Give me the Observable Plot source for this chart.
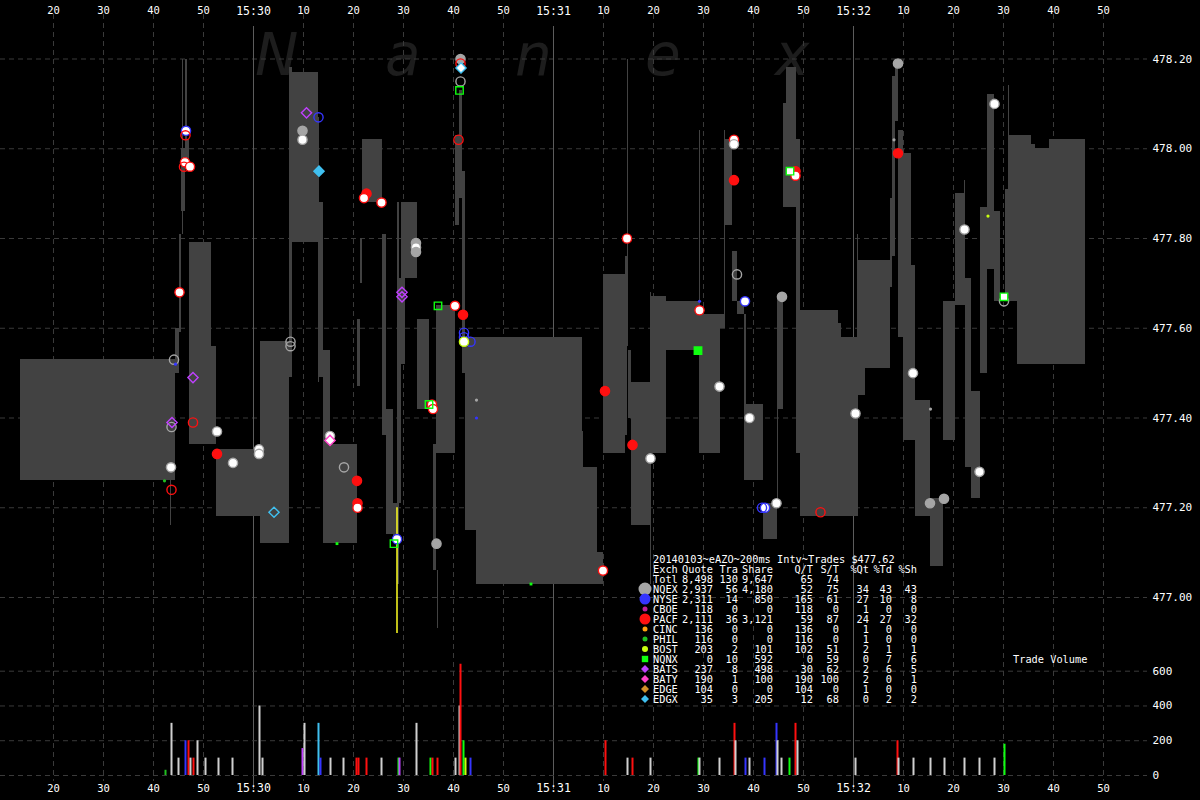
<!DOCTYPE html>
<html><head><meta charset="utf-8">
<script src="https://cdn.jsdelivr.net/npm/d3@7"></script>
<script src="https://cdn.jsdelivr.net/npm/@observablehq/plot@0.6"></script>
<style>
html,body{margin:0;padding:0;background:#000;}
#chart{position:relative;width:1200px;height:800px;background:#000;overflow:hidden;font-family:"DejaVu Sans Mono",monospace;color:#fff;}
#chart svg.layer{position:absolute;left:0;top:0;background:transparent;}
.wm{position:absolute;top:26px;font:italic 58px "DejaVu Sans",sans-serif;line-height:1;color:#1d1d1d;}
.lg{position:absolute;font-size:10.3px;line-height:10px;white-space:pre;color:#fff;}
</style></head><body><div id="chart"></div>
<script>
// ---- time is seconds after 15:29:00 ----
// NBBO spread segments
const spreadStart=[13.4,44.4,45.2,45.6,46.4,46.8,47.2,51.6,52.6,61.4,67.2,67.8,73.0,73.2,74.0,75.4,80.8,81.4,81.8,85.8,86.6,88.0,88.8,89.2,89.6,90.4,92.8,96.0,96.6,100.4,101.2,101.8,102.4,104.6,125.8,126.0,128.8,130.0,134.4,134.8,135.0,135.6,139.4,142.6,149.2,153.4,154.2,155.8,156.8,158.2,158.6,162.0,164.8,166.0,166.6,168.6,169.4,177.0,177.6,180.8,182.4,187.4,187.8,188.4,189.0,190.0,191.6,192.4,195.4,198.0,200.4,202.4,203.6,205.4,206.8,208.2,210.4,211.2,212.8,215.6,216.4,219.2,
 45.8,43.4,96.8,139.4,149.2,154.2,164.8,180.8,202.2,211.0];
const spreadEnd=[44.4,45.2,45.6,46.4,46.8,47.2,51.6,52.6,61.4,67.2,67.8,73.0,73.2,74.0,75.4,80.8,81.4,81.8,85.8,86.6,88.0,88.8,89.2,89.6,90.4,92.8,95.2,96.6,100.4,101.2,101.8,102.4,104.6,125.8,126.0,128.8,130.0,134.4,134.8,135.0,135.6,139.4,142.6,149.2,153.4,154.2,155.8,156.8,158.2,158.6,162.0,164.8,166.0,166.6,168.6,169.4,177.0,177.6,180.8,182.4,187.4,187.8,188.4,189.0,190.0,191.6,192.4,195.4,198.0,200.4,202.4,203.6,205.4,206.8,208.2,209.4,211.2,212.8,215.6,216.4,219.2,226.4,
 46.0,43.6,97.0,139.6,149.4,154.4,165.0,181.0,202.4,211.2];
const spreadBid=[477.26,477.50,477.59,477.86,477.96,477.96,477.34,477.34,477.18,477.12,477.49,477.79,477.48,477.49,477.12,477.12,477.47,477.70,477.88,477.36,477.14,477.13,477.03,477.21,477.52,477.71,477.42,477.06,477.32,477.83,477.89,477.50,477.15,477.03,477.03,477.03,477.03,477.32,477.36,477.56,477.40,477.16,477.32,477.55,477.32,477.60,477.83,477.66,477.63,477.26,477.26,477.13,477.42,477.87,477.87,477.32,477.18,477.18,477.18,477.45,477.51,477.69,477.76,478.06,477.58,477.35,477.35,477.18,477.07,477.35,477.65,477.29,477.22,477.50,477.73,477.66,477.66,477.66,477.52,477.52,477.52,477.52,
 477.81,477.16,476.93,477.03,477.65,477.60,477.21,477.18,477.71,477.91];
const spreadAsk=[477.53,477.60,477.81,478.00,478.20,478.02,477.79,477.56,477.33,477.57,478.18,478.17,478.07,477.88,477.55,477.34,477.62,477.80,478.02,477.81,477.42,477.21,477.88,477.71,477.88,477.88,477.62,477.34,477.65,478.03,478.13,477.95,477.58,477.58,477.37,477.29,477.10,477.72,477.76,478.20,477.55,477.48,477.67,477.66,477.63,477.63,478.02,477.77,477.66,477.63,477.43,477.21,477.67,478.10,478.18,478.02,477.64,477.61,477.58,477.75,477.75,477.89,478.16,478.20,478.04,477.99,477.74,477.44,477.22,477.66,477.90,477.71,477.46,477.87,478.12,477.86,477.91,478.03,478.03,478.01,478.00,478.02,
 478.20,477.26,477.06,477.68,478.04,478.04,477.67,477.81,477.93,478.14];

// trades (markers)
const tradeTime=[46.5,46.4,46.3,46.1,47.3,45.2,44.1,44.4,47.9,43.7,43.6,47.9,52.7,43.5,52.7,55.9,61.1,61.1,67.4,67.4,64.1,42.2,43.6,69.8,69.8,70.6,73.0,73.1,75.3,75.3,78.1,80.7,80.8,80.8,82.6,82.1,85.6,92.5,92.5,92.5,89.7,89.7,96.9,100.3,101.9,102.1,102.1,103.4,102.1,95.1,95.7,95.9,101.4,101.4,101.5,101.4,101.2,101.0,88.7,88.1,96.6,76.7,115.5,104.6,104.6,129.9,130.3,134.7,135.8,139.4,149.2,149.2,148.9,153.2,156.1,156.1,156.1,156.7,158.3,159.2,162.3,161.7,164.6,165.7,167.3,168.4,168.4,173.4,180.4,188.1,188.9,188.9,191.9,195.4,195.3,198.1,202.2,205.2,206.9,208.2,210.1,210.1];
const tradePrice=[478.04,478.03,477.97,477.96,477.96,477.68,477.53,477.52,477.49,477.39,477.38,477.39,477.37,477.29,477.32,477.30,477.33,477.32,477.57,477.56,477.19,477.26,477.24,478.04,478.02,478.08,478.07,477.95,477.36,477.35,477.29,477.26,477.21,477.20,477.90,477.89,477.88,477.79,477.78,477.77,477.68,477.67,477.65,477.65,477.63,477.59,477.58,477.57,477.57,477.43,477.43,477.42,478.20,478.19,478.18,478.15,478.13,478.02,477.13,477.12,477.12,477.12,477.03,477.44,477.40,477.06,477.46,477.80,477.34,477.31,477.66,477.64,477.55,477.47,478.02,478.01,477.93,477.72,477.66,477.40,477.20,477.20,477.21,477.67,477.95,477.95,477.94,477.19,477.41,478.02,478.19,477.99,477.50,477.42,477.21,477.22,477.82,477.28,477.85,478.10,477.67,477.66];
const tradeExch=["NYSE","PACF","PACF","PACF","PACF","PACF","NQEX","NYSE","BATS","BATS","NQEX","PACF","NQEX","NQEX","PACF","NQEX","NQEX","NQEX","NQEX","NQEX","EDGX","PHIL","PACF","NQEX","NQEX","BATS","NYSE","EDGX","NQEX","BATY","NQEX","PACF","PACF","PACF","PACF","PACF","PACF","NQEX","NQEX","NQEX","BATS","BATS","NQNX","PACF","PACF","NYSE","NYSE","NYSE","BOST","NQNX","PACF","PACF","NQEX","PACF","EDGX","NQEX","NQNX","PACF","NYSE","NQNX","NQEX","NQNX","NQNX","NQEX","NYSE","PACF","PACF","PACF","PACF","NQEX","NYSE","PACF","NQNX","NQEX","PACF","NQEX","PACF","NQEX","NYSE","NQEX","NYSE","NYSE","NQEX","NQEX","NQNX","PACF","PACF","PACF","NQEX","NQEX","NQEX","PACF","NQEX","NQEX","NQEX","NQEX","NQEX","NQEX","BOST","NQEX","NQNX","NQEX"];
const tradeStyle=["white","hollow","white","hollow","white","white","hollow","tiny","hollow","hollow","hollow","hollow","white","white","solid","white","white","white","hollow","hollow","hollow","tiny","hollow","solid","white","hollow","hollow","solid","white","white","hollow","solid","solid","white","solid","white","white","solid","white","solid","hollow","hollow","hollow","white","solid","hollow","hollow","hollow","white","hollow","white","white","solid","hollow","white","hollow","hollow","hollow","white","hollow","solid","tiny","tiny","tiny","tiny","white","solid","white","solid","white","tiny","white","solid","white","white","white","solid","hollow","white","white","white","hollow","white","solid","white","solid","white","hollow","white","tiny","solid","solid","white","tiny","solid","solid","white","white","tiny","white","white","hollow"];

// a trade-through line (BOST)
const lineTime=[88.7], lineFrom=[477.20], lineTo=[476.92];

// trade volume bars
const volTime=[42.4,43.6,45.0,46.4,47.0,47.4,48.0,48.8,50.4,53.0,55.8,61.2,61.8,69.8,70.2,73.0,73.4,75.4,78.0,80.6,81.0,82.6,85.6,89.0,89.2,92.6,95.4,95.8,96.8,100.4,101.2,101.4,102.0,102.4,103.4,130.4,134.8,135.8,139.4,149.0,149.2,153.2,156.2,156.4,158.4,159.2,162.2,164.6,164.8,165.6,167.2,168.4,168.8,180.4,188.8,189.0,192.0,195.4,198.2,202.2,205.2,208.2,210.2];
const volShares=[30,300,100,200,200,100,100,200,100,100,100,400,100,155,300,300,100,100,100,100,100,100,100,100,100,300,100,100,100,100,400,640,200,100,100,200,100,100,100,100,100,100,300,200,100,100,100,300,200,100,100,300,200,100,200,100,100,100,100,100,100,100,180];
const volExch=["PHIL","NQEX","NQEX","NYSE","PACF","NQEX","PACF","NQEX","NQEX","NQEX","NQEX","NQEX","NQEX","BATS","NQEX","EDGX","NYSE","NQEX","NQEX","PACF","PACF","PACF","NQEX","NQNX","BATS","NQEX","NQNX","PACF","PACF","NQEX","NQEX","PACF","NQNX","BOST","NYSE","PACF","NQEX","PACF","NQEX","NQNX","NQEX","NQEX","PACF","NQEX","NYSE","NQEX","NYSE","NYSE","NQEX","NQEX","NQNX","PACF","NQEX","NQEX","PACF","NQEX","NQEX","NQEX","NQEX","NQEX","NQEX","NQEX","NQNX"];

// legend table
const legendTitle="20140103~eAZO~200ms Intv~Trades $477.62";
const legendHeader=["Exch","Quote","Tra","Share","Q/T","S/T","%Qt","%Td","%Sh"];
const legendExch=["Totl","NQEX","NYSE","CBOE","PACF","CINC","PHIL","BOST","NQNX","BATS","BATY","EDGE","EDGX"];
const legendQuote=["8,498","2,937","2,311","118","2,111","136","116","203","0","237","190","104","35"];
const legendTra=["130","56","14","0","36","0","0","2","10","8","1","0","3"];
const legendShare=["9,647","4,180","850","0","3,121","0","0","101","592","498","100","0","205"];
const legendQT=["65","52","165","118","59","136","116","102","0","30","190","104","12"];
const legendST=["74","75","61","0","87","0","0","51","59","62","100","0","68"];
const legendPQt=["","34","27","1","24","1","1","2","0","2","2","1","0"];
const legendPTd=["","43","10","0","27","0","0","1","7","6","0","0","2"];
const legendPSh=["","43","8","0","32","0","0","1","6","5","1","0","2"];

// exchange styling
const exchNames=["NQEX","NYSE","CBOE","PACF","CINC","PHIL","BOST","NQNX","BATS","BATY","EDGE","EDGX"];
const exchColors=["#a6a6a6","#3535ff","#c0209a","#ff1010","#ffa010","#20c020","#c8ff10","#10ff10","#c040ff","#ff40c8","#d09028","#40c0f0"];
const exchSymbols=["circle","circle","circle","circle","circle","circle","circle","square","diamond2","diamond2","diamond2","diamond2"];
const legendR=[6.5,5.5,2.5,5.5,2.5,2.5,3,3.2,4.5,4.5,4.5,4.5];

const priceTicks=[477.0,477.2,477.4,477.6,477.8,478.0,478.2];
const volTicks=[0,200,400,600];
const secTicks=d3.range(20,231,10);
const watermark=["N","a","n","e","x"];

// ---- build ----
const colorOf=Object.fromEntries(exchNames.map((e,i)=>[e,exchColors[i]]));
const symOf=Object.fromEntries(exchNames.map((e,i)=>[e,exchSymbols[i]]));
const spreads=spreadStart.map((t,i)=>({t0:t,t1:spreadEnd[i],bid:spreadBid[i],ask:spreadAsk[i]}));
const trades=tradeTime.map((t,i)=>({t,p:tradePrice[i],ex:tradeExch[i],st:tradeStyle[i]}));
const lines=lineTime.map((t,i)=>({t,a:lineFrom[i],b:lineTo[i]}));
const vols=volTime.map((t,i)=>({t,v:volShares[i],ex:volExch[i]}));
const volColor=ex=>ex==="NQEX"?"#d0d0d0":colorOf[ex];

const W=1200,H=800;
const xDomain=[9.4,230];
const xGridEnd=238.8;
const pxPerDollar=448.75;
const priceDomain=[478.2-741.5/pxPerDollar,478.2+58.5/pxPerDollar];
const fmtSec=s=>s%60===0?`15:${29+s/60}`:String(s%60);

const dotMarks=[];
for(const sym of ["circle","square","diamond2"]){
  dotMarks.push(Plot.dot(trades,{filter:d=>symOf[d.ex]===sym&&d.st!=="tiny",x:"t",y:"p",symbol:sym,r:sym==="square"?4.2:4.6,
    fill:d=>d.st==="solid"?colorOf[d.ex]:d.st==="white"?"#ffffff":"none",
    stroke:d=>colorOf[d.ex],strokeWidth:1.4}));
}
dotMarks.push(Plot.dot(trades,{filter:d=>d.st==="tiny",x:"t",y:"p",symbol:d=>symOf[d.ex],r:1.6,fill:d=>colorOf[d.ex],stroke:"none"}));

const chart=document.getElementById("chart");
// watermark
watermark.forEach((c,i)=>{const s=document.createElement("div");s.className="wm";s.textContent=c;s.style.left=(255+i*130)+"px";chart.appendChild(s);});

const pricePlot=Plot.plot({
  width:W,height:H,marginLeft:0,marginRight:97,marginTop:0,marginBottom:0,
  style:{background:"transparent",color:"#fff"},
  x:{domain:xDomain,axis:null},y:{domain:priceDomain,axis:null},
  color:{type:"identity"},symbol:{type:"identity"},
  marks:[
    Plot.ruleY(priceTicks,{x1:xDomain[0],x2:xGridEnd,stroke:"#3a3a3a",strokeDasharray:"5,4"}),
    Plot.ruleX(secTicks.filter(s=>s%60!==0),{x:d=>d,stroke:"#3a3a3a",strokeDasharray:"5,4",insetTop:14,insetBottom:19}),
    Plot.ruleX(secTicks.filter(s=>s%60===0),{x:d=>d,stroke:"#5c5c5c",insetTop:26,insetBottom:11}),
    Plot.ruleX([xDomain[1]],{x:d=>d,stroke:"#3a3a3a",strokeDasharray:"5,4",insetTop:14,insetBottom:19}),
    Plot.rect(spreads,{x1:"t0",x2:"t1",y1:"bid",y2:"ask",fill:"#424242",shapeRendering:"crispEdges"}),
    Plot.ruleX(lines,{x:"t",y1:"a",y2:"b",stroke:"#ffff20",strokeWidth:1.5}),
    ...dotMarks,
    Plot.text(priceTicks,{x:xGridEnd,y:d=>d,text:d=>d.toFixed(2),textAnchor:"start",dx:5,fill:"#fff",fontSize:11,fontFamily:"DejaVu Sans Mono"}),
    Plot.text(secTicks,{x:d=>d,frameAnchor:"top",dy:6,text:fmtSec,fill:"#fff",fontSize:d=>d%60===0?11.5:10.5,fontFamily:"DejaVu Sans Mono"}),
    Plot.text(secTicks,{x:d=>d,frameAnchor:"bottom",dy:-9,text:fmtSec,fill:"#fff",fontSize:d=>d%60===0?11.5:10.5,fontFamily:"DejaVu Sans Mono"})
  ]
});
pricePlot.classList.add("layer");
chart.appendChild(pricePlot);

const volTop=775-700*(104.3/600);
const volPlot=Plot.plot({
  width:W,height:H,marginLeft:0,marginRight:97,marginTop:volTop,marginBottom:25,
  style:{background:"transparent",color:"#fff"},
  x:{domain:xDomain,axis:null},y:{domain:[0,700],axis:null},
  color:{type:"identity"},
  marks:[
    Plot.ruleY(volTicks,{x1:xDomain[0],x2:xGridEnd,stroke:"#3a3a3a",strokeDasharray:"5,4"}),
    Plot.ruleX(vols,{x:"t",y1:0,y2:"v",stroke:d=>volColor(d.ex),strokeWidth:2}),
    Plot.text(volTicks,{x:xGridEnd,y:d=>d,text:d=>String(d),textAnchor:"start",dx:5,fill:"#fff",fontSize:11,fontFamily:"DejaVu Sans Mono"})
  ]
});
volPlot.classList.add("layer");
chart.appendChild(volPlot);

// Trade Volume label
const tv=document.createElement("div");tv.className="lg";tv.textContent="Trade Volume";tv.style.left="1013px";tv.style.top="654px";chart.appendChild(tv);

// legend table
const colRight=[null,713,738,773,813,839,869,892,917];
function addText(txt,x,y,anchorRight){const d=document.createElement("div");d.className="lg";d.textContent=txt;d.style.top=(y-5)+"px";
  if(anchorRight){d.style.right=(1200-x)+"px";}else{d.style.left=x+"px";}chart.appendChild(d);}
addText(legendTitle,653,559,false);
const rows=[legendHeader].concat(legendExch.map((e,i)=>[e,legendQuote[i],legendTra[i],legendShare[i],legendQT[i],legendST[i],legendPQt[i],legendPTd[i],legendPSh[i]]));
rows.forEach((r,ri)=>{const y=569+ri*10;r.forEach((v,ci)=>{if(ci===0)addText(v,653,y,false);else if(v!=="")addText(v,colRight[ci],y,true);});});
// legend markers
const lgSvg=d3.select(chart).append("svg").attr("class","layer").attr("width",W).attr("height",H).style("pointer-events","none");
exchNames.forEach((e,i)=>{const y=589+i*10,x=645;
  const sym=exchSymbols[i]==="circle"?d3.symbolCircle:exchSymbols[i]==="square"?d3.symbolSquare:d3.symbolDiamond2;
  const r=legendR[i];const area=sym===d3.symbolCircle?Math.PI*r*r:(sym===d3.symbolSquare?4*r*r:2*r*r);
  lgSvg.append("path").attr("d",d3.symbol(sym,area)()).attr("transform",`translate(${x},${y})`).attr("fill",exchColors[i]);});
</script></body></html>
